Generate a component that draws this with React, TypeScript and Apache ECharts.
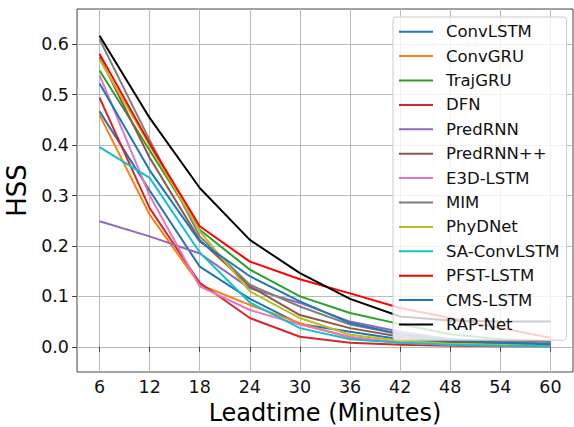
import React, { useEffect, useRef } from "react";
import * as echarts from "echarts";

const leadtimes = [6, 12, 18, 24, 30, 36, 42, 48, 54, 60];
const xTicks = [6, 12, 18, 24, 30, 36, 42, 48, 54, 60];
const yTicks = [0, 0.1, 0.2, 0.3, 0.4, 0.5, 0.6];

const seriesNames = [
  "ConvLSTM", "ConvGRU", "TrajGRU", "DFN", "PredRNN", "PredRNN++", "E3D-LSTM",
  "MIM", "PhyDNet", "SA-ConvLSTM", "PFST-LSTM", "CMS-LSTM", "RAP-Net",
];
const seriesColors = [
  "#1f77b4", "#ff7f0e", "#2ca02c", "#d62728", "#9467bd", "#8c564b", "#e377c2",
  "#7f7f7f", "#bcbd22", "#17becf", "#ff0000", "#1f77b4", "#000000",
];

const convLSTM = [0.467, 0.31, 0.159, 0.095, 0.045, 0.03, 0.015, 0.008, 0.005, 0.003];
const convGRU = [0.46, 0.262, 0.123, 0.083, 0.047, 0.018, 0.008, 0.004, 0.002, 0.001];
const trajGRU = [0.548, 0.39, 0.232, 0.153, 0.1, 0.067, 0.045, 0.025, 0.015, 0.01];
const dfn = [0.494, 0.275, 0.127, 0.057, 0.02, 0.008, 0.004, 0.002, 0.001, 0.001];
const predRNN = [0.249, 0.219, 0.185, 0.116, 0.087, 0.05, 0.03, 0.015, 0.01, 0.006];
const predRNNpp = [0.575, 0.375, 0.212, 0.12, 0.063, 0.037, 0.02, 0.01, 0.006, 0.004];
const e3dLSTM = [0.539, 0.3, 0.12, 0.073, 0.044, 0.02, 0.008, 0.004, 0.002, 0.001];
const mim = [0.61, 0.41, 0.219, 0.123, 0.08, 0.044, 0.025, 0.015, 0.012, 0.01];
const phyDNet = [0.57, 0.4, 0.229, 0.11, 0.057, 0.024, 0.012, 0.006, 0.004, 0.003];
const saConvLSTM = [0.396, 0.335, 0.187, 0.088, 0.037, 0.015, 0.008, 0.004, 0.002, 0.001];
const pfstLSTM = [0.581, 0.403, 0.239, 0.169, 0.134, 0.106, 0.077, 0.057, 0.037, 0.018];
const cmsLSTM = [0.522, 0.35, 0.209, 0.14, 0.09, 0.047, 0.025, 0.012, 0.008, 0.005];
const rapNet = [0.617, 0.454, 0.315, 0.212, 0.146, 0.095, 0.06, 0.052, 0.05, 0.05];

const seriesValues = [
  convLSTM, convGRU, trajGRU, dfn, predRNN, predRNNpp, e3dLSTM,
  mim, phyDNet, saConvLSTM, pfstLSTM, cmsLSTM, rapNet,
];

const FONT = "DejaVu Sans";

export default function App() {
  const ref = useRef<HTMLDivElement>(null);
  useEffect(() => {
    document.body.style.margin = "0";
    const chart = echarts.init(ref.current!, undefined, { renderer: "svg" });
    const series = seriesNames.map((name, i) => ({
      name,
      type: "line",
      data: leadtimes.map((x, j) => [x, seriesValues[i][j]]),
      showSymbol: false,
      symbol: "none",
      lineStyle: { color: seriesColors[i], width: 2 },
      itemStyle: { color: seriesColors[i] },
      color: seriesColors[i],
    }));
    chart.setOption({
      animation: false,
      backgroundColor: "#ffffff",
      grid: {
        left: 77,
        right: 1,
        top: 9,
        bottom: 55,
        outerBoundsMode: "none",
        containLabel: false,
        show: true,
        borderColor: "#444",
        borderWidth: 1,
        backgroundColor: "transparent",
      },
      xAxis: {
        type: "value",
        min: 3.3,
        max: 62.7,
        name: "Leadtime (Minutes)",
        nameLocation: "middle",
        nameGap: 22,
        nameTextStyle: { fontFamily: FONT, fontSize: 24, lineHeight: 25, color: "#000" },
        axisLine: { show: false },
        axisTick: {
          show: true,
          customValues: xTicks,
          length: 5,
          lineStyle: { color: "#444", width: 1 },
        },
        axisLabel: {
          customValues: xTicks,
          fontFamily: FONT,
          fontSize: 17.5,
          color: "#111",
          margin: 6,
        },
        splitLine: { show: true, lineStyle: { color: "#bbbbbb", width: 1 } },
      },
      yAxis: {
        type: "value",
        min: -0.05,
        max: 0.67,
        name: "HSS",
        nameLocation: "middle",
        nameGap: 45,
        nameTextStyle: { fontFamily: FONT, fontSize: 26, color: "#000" },
        axisLine: { show: false },
        axisTick: {
          show: true,
          customValues: yTicks,
          length: 5,
          lineStyle: { color: "#444", width: 1 },
        },
        axisLabel: {
          customValues: yTicks,
          fontFamily: FONT,
          fontSize: 17.5,
          color: "#111",
          margin: 8,
          formatter: (v: number) => v.toFixed(1),
        },
        splitLine: { show: true, lineStyle: { color: "#bbbbbb", width: 1 } },
      },
      legend: {
        orient: "vertical",
        left: 393,
        top: 17,
        icon: "rect",
        itemWidth: 34,
        itemHeight: 2,
        itemGap: 5,
        padding: [5, 7, 6, 6],
        backgroundColor: "rgba(255,255,255,0.8)",
        borderColor: "#cccccc",
        borderWidth: 1,
        borderRadius: 3,
        textStyle: {
          fontFamily: FONT,
          fontSize: 16.5,
          color: "#111",
          lineHeight: 19.4,
          padding: [0, 0, 0, 8],
        },
        data: seriesNames,
      },
      series,
    });
    return () => chart.dispose();
  }, []);
  return (
    <div
      ref={ref}
      style={{ position: "fixed", left: 0, top: 0, width: 574, height: 427 }}
    />
  );
}
